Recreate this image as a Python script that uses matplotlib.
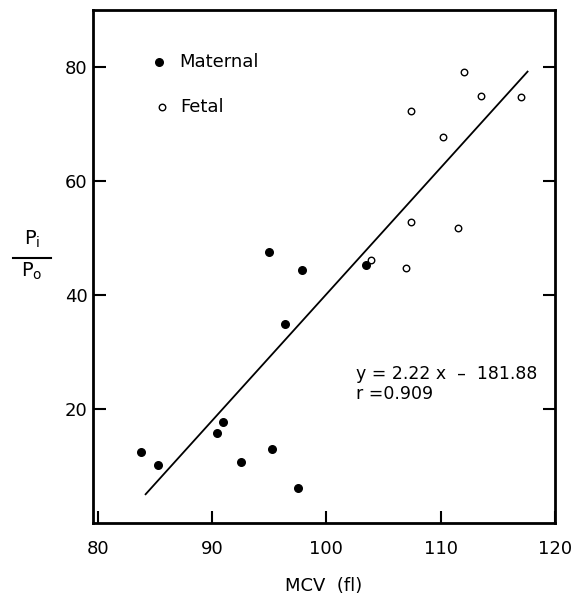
import matplotlib.pyplot as plt
from matplotlib.lines import Line2D

# MCV (fl) vs Pi/Po
maternal_mcv = [95.0, 97.9, 103.5, 96.4, 90.95, 90.45, 83.8, 85.3, 92.5, 95.25, 97.5]
maternal_p = [47.5, 44.3, 45.2, 35.0, 17.7, 15.8, 12.4, 10.1, 10.7, 13.0, 6.2]

fetal_mcv = [112.0, 113.5, 117.0, 107.45, 110.2, 107.4, 111.5, 103.9, 107.0]
fetal_p = [79.1, 74.9, 74.7, 72.2, 67.7, 52.8, 51.8, 46.2, 44.8]

slope = 2.22
intercept = -181.88
line_x = [84.2, 117.6]

plt.rcParams['font.family'] = ['DejaVu Sans']
plt.rcParams['mathtext.fontset'] = 'dejavusans'

fig = plt.figure(figsize=(5.8, 5.95), dpi=100)
ax = fig.add_axes([93/580, 1 - 523/595, 462/580, 513/595])

ax.scatter(maternal_mcv, maternal_p, s=30, c='black', zorder=3)
ax.scatter(fetal_mcv, fetal_p, s=22, facecolors='white', edgecolors='black',
           linewidths=1.0, zorder=3)
ax.plot(line_x, [slope * v + intercept for v in line_x], color='black', lw=1.3)

# legend drawn by hand
ax.scatter([85.4], [80.9], s=30, c='black')
ax.text(87.1, 80.9, 'Maternal', fontsize=13, va='center')
ax.scatter([85.65], [73.0], s=22, facecolors='white', edgecolors='black', linewidths=1.0)
ax.text(87.2, 73.0, 'Fetal', fontsize=13, va='center')

ax.text(102.6, 26.1, 'y = 2.22 x  \u2013  181.88', fontsize=12.5, va='center')
ax.text(102.6, 22.6, 'r =0.909', fontsize=12.5, va='center')

ax.set_xlim(79.6, 120)
ax.set_ylim(0, 90)
ax.set_xticks([80, 90, 100, 110, 120])
ax.set_yticks([20, 40, 60, 80])
ax.tick_params(direction='in', length=9, width=1.5, labelsize=13,
               right=True, top=False)
ax.tick_params(axis='y', pad=4)
ax.tick_params(axis='x', pad=12)
for s in ax.spines.values():
    s.set_linewidth(2)

ax.set_xlabel('MCV  (fl)', fontsize=13, labelpad=14)

# y label as a fraction Pi / Po
fig.text(32/580, 1 - 245/595, r'P$_\mathrm{i}$', fontsize=14, ha='center', va='baseline')
fig.add_artist(Line2D([13/580, 51/580], [1 - 258/595, 1 - 258/595], color='black', lw=1.5))
fig.text(32/580, 1 - 277/595, r'P$_\mathrm{o}$', fontsize=14, ha='center', va='baseline')

plt.savefig('out.png', dpi=100)
